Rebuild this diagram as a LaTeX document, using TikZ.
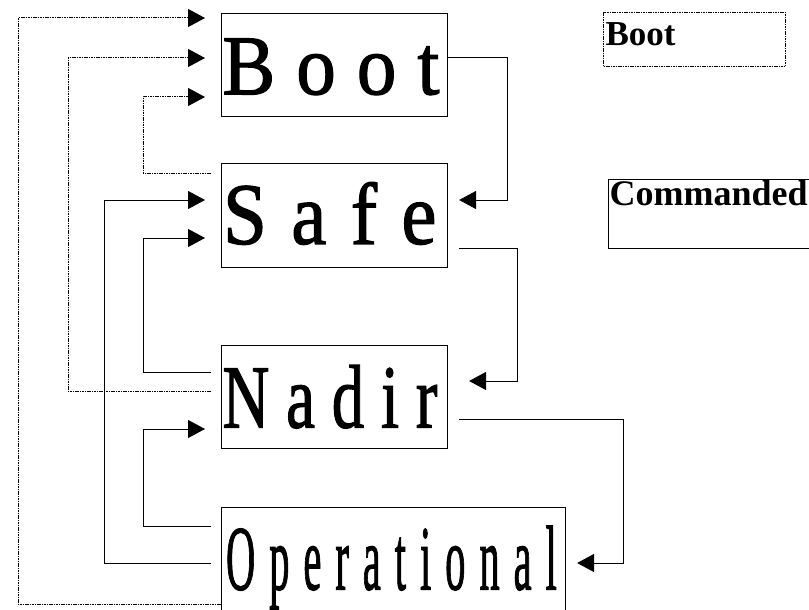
\documentclass[tikz,border=0pt]{standalone}
\usepackage{fontspec}
\setmainfont{Liberation Serif}
\usepackage{graphicx}
\usetikzlibrary{arrows.meta}
\newcommand{\sttext}[4]{\scalebox{#2}[1]{\fontsize{#1}{#1}\selectfont\addfontfeature{LetterSpace=#3,FakeBold=1.5}#4}}
\begin{document}
\begin{tikzpicture}[x=1pt,y=-1pt,
  state/.style={draw, line width=1.1pt, inner sep=0pt, anchor=north west},
  conn/.style={line width=1pt, -{Triangle[length=17pt,width=18pt]}},
  bootline/.style={conn, dash pattern=on 1.6pt off 0.8pt},
  legend/.style={line width=1pt, inner sep=0pt, anchor=north west}]
\useasboundingbox (0,0) rectangle (809,610);
% states
\node[state, text height=81pt, text depth=22pt] (boot) at (221,12.7)
  {\makebox[226pt][l]{\hspace{1pt}\sttext{85}{0.93}{26.6}{Boot}}};
\node[state, text height=80pt, text depth=24pt] (safe) at (221,163.3)
  {\makebox[226pt][l]{\hspace{1.5pt}\sttext{87.6}{0.9}{31}{Safe}}};
\node[state, text height=82pt, text depth=21pt] (nadir) at (221,345)
  {\makebox[226pt][l]{\hspace{1pt}\sttext{90}{0.72}{26}{Nadir}}};
\node[state, text height=82pt, text depth=28pt] (oper) at (221,507)
  {\makebox[344pt][l]{\hspace{4.5pt}\sttext{92}{0.44}{34.5}{Operational}}};
% legend
\node[legend, draw, dash pattern=on 1.6pt off 0.8pt, text height=33pt, text depth=21pt] (lboot) at (603,12)
  {\makebox[182pt][l]{\hspace{2pt}\fontsize{35}{35}\selectfont\bfseries Boot}};
\node[legend, draw, line width=1.1pt, text height=26pt, text depth=43pt] (lcmd) at (608,179)
  {\makebox[215pt][l]{\hspace{1pt}\fontsize{36}{36}\selectfont\bfseries Commanded}};
% commanded transitions (right side)
\draw[conn, shorten >=11pt] (boot.east |- 0,58) -| (507,200) -- (safe.east |- 0,200);
\draw[conn, shorten <=11pt, shorten >=21pt] (safe.east |- 0,248) -| (517,381) -- (nadir.east |- 0,381);
\draw[conn, shorten <=11pt, shorten >=11pt] (nadir.east |- 0,419) -| (623,563) -- (oper.east |- 0,563);
% boot transitions (dotted)
\draw[bootline, shorten >=16pt] (oper.west |- 0,604) -| (18,18) -- (boot.west |- 0,18);
\draw[bootline, shorten <=10pt, shorten >=16pt] (nadir.west |- 0,391) -| (68,58) -- (boot.west |- 0,58);
\draw[bootline, shorten <=10pt, shorten >=16pt] (safe.west |- 0,173) -| (143,97) -- (boot.west |- 0,97);
% commanded transitions (left side)
\draw[conn, shorten <=10pt, shorten >=16pt] (oper.west |- 0,563) -| (104,200) -- (safe.west |- 0,200);
\draw[conn, shorten <=10pt, shorten >=16pt] (nadir.west |- 0,372) -| (143,238) -- (safe.west |- 0,238);
\draw[conn, shorten <=10pt, shorten >=16pt] (oper.west |- 0,526) -| (143,429) -- (nadir.west |- 0,429);
\end{tikzpicture}
\end{document}
